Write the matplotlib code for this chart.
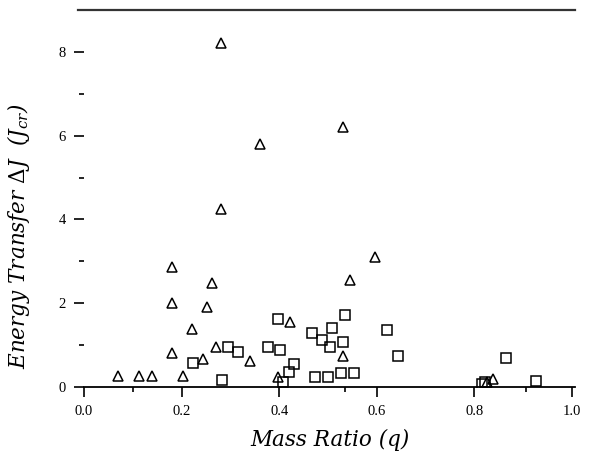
import numpy as np
import matplotlib
matplotlib.use("Agg")
import matplotlib.pyplot as plt
from matplotlib.ticker import FixedLocator

plt.rcParams['font.family'] = ['Liberation Serif', 'DejaVu Serif']
plt.rcParams['mathtext.fontset'] = 'dejavuserif'

# triangles: one family of runs, squares: the other
tri_q = [0.281, 0.531, 0.361, 0.281, 0.596, 0.545, 0.180, 0.262, 0.180, 0.252,
         0.221, 0.270, 0.180, 0.244, 0.070, 0.113, 0.139, 0.203, 0.340, 0.422,
         0.531, 0.838, 0.826, 0.398]
tri_dj = [8.22, 6.21, 5.81, 4.26, 3.10, 2.55, 2.86, 2.48, 2.00, 1.90,
          1.38, 0.95, 0.81, 0.67, 0.26, 0.26, 0.26, 0.26, 0.62, 1.55,
          0.74, 0.20, 0.12, 0.24]

sq_q = [0.535, 0.467, 0.508, 0.488, 0.504, 0.531, 0.621, 0.643, 0.865, 0.926,
        0.398, 0.377, 0.402, 0.295, 0.316, 0.223, 0.283, 0.408, 0.420, 0.430,
        0.473, 0.500, 0.527, 0.553, 0.815, 0.822]
sq_dj = [1.71, 1.29, 1.40, 1.12, 0.95, 1.07, 1.36, 0.74, 0.69, 0.14,
         1.62, 0.95, 0.88, 0.95, 0.83, 0.57, 0.17, 0.12, 0.36, 0.55,
         0.24, 0.24, 0.33, 0.33, 0.08, 0.12]

x_major = [0.0, 0.2, 0.4, 0.6, 0.8, 1.0]
x_minor = [0.1, 0.535, 0.905]
y_major = [0, 2, 4, 6, 8]
y_minor = [1, 3, 5, 7]

W, H = 592, 455
fig = plt.figure(figsize=(W / 100, H / 100), dpi=100)
ax = fig.add_axes([84 / W, 68 / H, 491 / W, 377 / H])

ax.plot(tri_q, tri_dj, linestyle='none', marker='^', ms=7, mfc='none',
        mec='black', mew=1.1)
ax.plot(sq_q, sq_dj, linestyle='none', marker='s', ms=6.5, mfc='none',
        mec='black', mew=1.1)

ax.set_xlim(0, 1.006)
ax.set_ylim(0, 9)

ax.spines['left'].set_visible(False)
ax.spines['right'].set_visible(False)
ax.spines['bottom'].set_linewidth(1.3)
ax.spines['top'].set_linewidth(1.6)
ax.spines['top'].set_color('#333333')
ax.spines['top'].set_bounds(-0.012, 1.006)

ax.set_xticks(x_major)
ax.set_xticklabels(['0.0', '0.2', '0.4', '0.6', '0.8', '1.0'])
ax.xaxis.set_minor_locator(FixedLocator(x_minor))
ax.set_yticks(y_major)
ax.yaxis.set_minor_locator(FixedLocator(y_minor))

ax.tick_params(axis='both', which='major', direction='out', length=7,
               width=1.2, labelsize=10.5, pad=6, top=False, right=False)
ax.tick_params(axis='both', which='minor', direction='out', length=3.5,
               width=1.2, top=False, right=False)

label_font = dict(family='DejaVu Serif', fontsize=15.5, fontstyle='italic')
ax.set_xlabel('Mass Ratio (q)', labelpad=8, **label_font)
ax.set_ylabel(r'Energy Transfer $\it{\Delta J}$  ($\it{J_{cr}}$)', **label_font)
ax.yaxis.set_label_coords(-0.105, 0.40)

fig.savefig('out.png', dpi=100)
